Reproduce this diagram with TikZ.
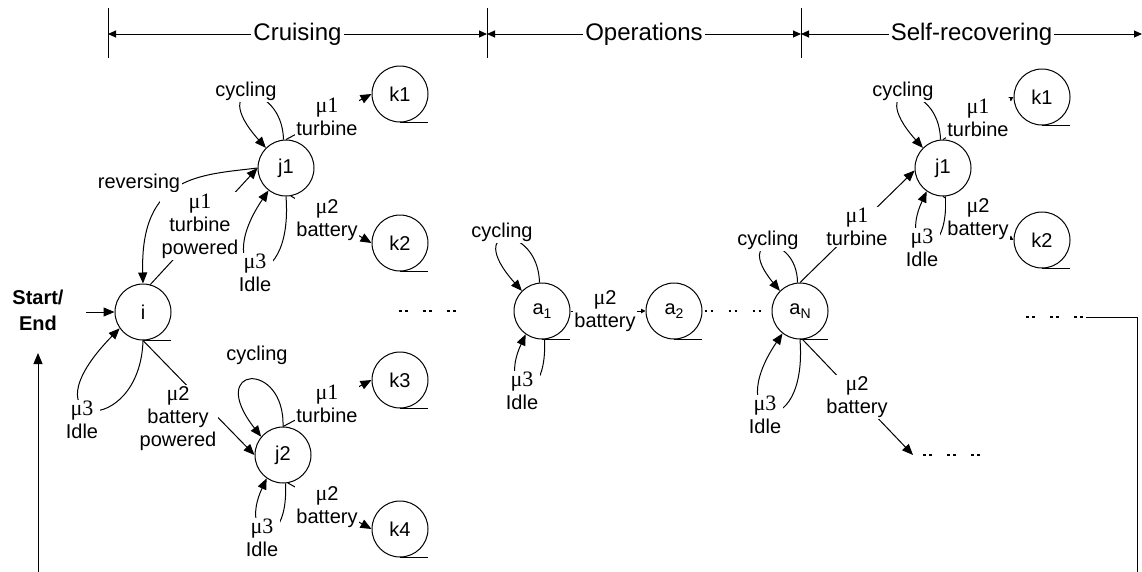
\documentclass[tikz,border=0pt]{standalone}
\usepackage{fontspec}
\setmainfont{Liberation Sans}
\newfontfamily\muserif{Liberation Serif}
\usetikzlibrary{arrows.meta,calc}
\newcommand{\mymu}[1]{{\muserif\fontsize{22}{23}\selectfont μ#1}}
\newcommand{\mymus}[1]{{\muserif\fontsize{22}{23}\selectfont μ}#1}
\newcommand{\subtxt}[1]{\raisebox{-4pt}{\fontsize{14}{14}\selectfont #1}}
\begin{document}
\begin{tikzpicture}[x=1pt,y=-1pt,line width=1pt,
  st/.style={circle,draw,minimum size=56pt,inner sep=0pt,font=\fontsize{20}{24}\selectfont},
  lbl/.style={fill=white,inner sep=1.5pt,align=center,font=\fontsize{20}{23}\selectfont},
  hdr/.style={fill=white,inner sep=2pt,font=\fontsize{24}{28}\selectfont},
  arr/.style={-{Triangle[length=11pt,width=9pt]}},
  sarr/.style={-{Triangle[length=4.5pt,width=4.5pt]}},
  harr/.style={{Triangle[length=8pt,width=7pt]}-{Triangle[length=8pt,width=7pt]}},
  dotline/.style={line width=2.6pt,dash pattern=on 2.6pt off 3.4pt on 2.6pt off 15.4pt}]
\useasboundingbox (0,0) rectangle (1142,571);

% header
\coordinate (h0) at (108,34);
\coordinate (h1) at (487,34);
\coordinate (h2) at (801,34);
\coordinate (h3) at (1142,34);
\foreach \xx in {108,487,801} \draw (\xx,8) -- (\xx,58);
\draw[harr] (h0) -- node[hdr] (hc) {Cruising} (h1);
\draw[harr] (h1) -- node[hdr] (ho) {Operations} (h2);
\draw[harr] (h2) -- node[hdr] (hs) {Self-recovering} (h3);

% states
\node[st] (i) at (143,312) {i};
\node[st] (j1) at (286,168) {j1};
\node[st] (k1) at (400,94) {k1};
\node[st] (k2) at (400,243) {k2};
\node[st] (j2) at (283,455) {j2};
\node[st] (k3) at (400,380) {k3};
\node[st] (k4) at (400,529) {k4};
\node[st] (a1) at (542,311) {a\subtxt{1}};
\node[st] (a2) at (674,311) {a\subtxt{2}};
\node[st] (aN) at (800,311) {a\subtxt{N}};
\node[st] (rj1) at (943,168) {j1};
\node[st] (rk1) at (1042,97) {k1};
\node[st] (rk2) at (1042,240) {k2};
\foreach \n in {i,k1,k2,k3,k4,a1,a2,aN,rk1,rk2} \draw (\n.south) -- ++(28,0);

% start / end
\node[font=\bfseries\fontsize{20}{26}\selectfont,align=center,inner sep=0pt] (se) at (38,310) {Start/\\End};
\coordinate (sa) at (86,312);
\coordinate (re) at (38,353);
\draw[arr] (sa) -- (i.west);

% left part
\draw[arr] (i.75) -- (j1.west);
\draw[arr] (j1.west) .. controls (200,175) and (140,175) .. (i.north);
\draw[arr] (j1.95) .. controls ($(j1)+(-4,-88)$) and ($(j1)+(-81,-88)$) .. (j1.135);
\draw[arr] (j1.270) .. controls ($(j1)+(8,135)$) and ($(j1)+(-80,115)$) .. (j1.232);
\draw[arr] (j1.north) -- (k1.west);
\draw[arr] (j1.280) -- (k2.west);
\draw[arr] (i.south) .. controls (140,440) and (20,430) .. (i.215);
\draw[arr] (i.south) -- (j2.west);
\draw[arr] (j2.north) .. controls (285,360) and (205,365) .. (j2.140);
\draw[arr] (j2.north) -- (k3.west);
\draw[arr] (j2.280) -- (k4.west);
\draw[arr] (j2.275) .. controls ($(j2)+(6,100)$) and ($(j2)+(-45,85)$) .. (j2.235);
\draw[dotline] (399,311) -- (458,311);

% operations
\draw[arr] (a1.95) .. controls ($(a1)+(-4,-88)$) and ($(a1)+(-81,-88)$) .. (a1.135);
\draw[arr] (a1.275) .. controls ($(a1)+(6,100)$) and ($(a1)+(-45,85)$) .. (a1.235);
\draw[sarr] (a1.east) -- (a2.west);
\draw[dotline] ([xshift=2pt]a2.east) -- (aN.west);
\draw[arr] (aN.95) .. controls ($(aN)+(-3,-78)$) and ($(aN)+(-68,-78)$) .. (aN.135);
\draw[arr] (aN.270) .. controls ($(aN)+(8,135)$) and ($(aN)+(-80,115)$) .. (aN.232);
\draw[arr] (aN.north) -- (rj1.185);
\coordinate (d3s) at (913,455);
\coordinate (d3a) at (923,455);
\coordinate (d3b) at (983,455);
\draw[arr] (aN.-85) -- (d3s);
\draw[dotline] (d3a) -- (d3b);

% self-recovering
\draw[arr] (rj1.95) .. controls ($(rj1)+(-4,-88)$) and ($(rj1)+(-81,-88)$) .. (rj1.135);
\draw[arr] (rj1.275) .. controls ($(rj1)+(6,100)$) and ($(rj1)+(-45,85)$) .. (rj1.235);
\draw[sarr] (rj1.north) -- (rk1.west);
\draw[sarr] (rj1.south) -- (rk2.west);

% return path
\coordinate (d4s) at (1026,317);
\coordinate (d4e) at (1086,317);
\draw[dotline] (d4s) -- (d4e);
\begin{scope}
\clip (0,0) rectangle (1142,571);
\draw[arr] (d4e) -- (1137,317) -- (1137,600) -- (38,600) -- (re);
\end{scope}

% labels
\node[lbl] (lrev) at (139,183) {reversing};
\node[lbl] (lij1) at (200,226) {\mymu{1}\\turbine\\powered};
\node[lbl] (lj1c) at ($(j1)+(-40,-77)$) {cycling};
\node[lbl] (lj1i) at ($(j1)+(-31,105)$) {\mymu{3}\\Idle};
\node[lbl] (lj1k1) at (327,117) {\mymu{1}\\turbine};
\node[lbl] (lj1k2) at (327,220) {\mymus{2}\\battery};
\node[lbl] (lii) at (82,420) {\mymu{3}\\Idle};
\node[lbl] (lij2) at (178,419) {\mymus{2}\\battery\\powered};
\node[lbl] (lj2c) at (257,355) {cycling};
\node[lbl] (lj2k3) at (327,404) {\mymu{1}\\turbine};
\node[lbl] (lj2k4) at (327,507) {\mymus{2}\\battery};
\node[lbl] (lj2i) at ($(j2)+(-21,83)$) {\mymu{3}\\Idle};
\node[lbl] (la1c) at ($(a1)+(-40,-79)$) {cycling};
\node[lbl] (la1i) at ($(a1)+(-20,80)$) {\mymu{3}\\Idle};
\node[lbl] (la12) at (605,311) {\mymus{2}\\battery};
\node[lbl] (laNc) at ($(aN)+(-32,-71)$) {cycling};
\node[lbl] (laNi) at ($(aN)+(-35,104)$) {\mymu{3}\\Idle};
\node[lbl] (laNj) at (857,227) {\mymu{1}\\turbine};
\node[lbl] (laNd) at (857,397) {\mymus{2}\\battery};
\node[lbl] (lrc) at ($(rj1)+(-40,-77)$) {cycling};
\node[lbl] (lri) at ($(rj1)+(-21,80)$) {\mymu{3}\\Idle};
\node[lbl] (lrk1) at (978,118) {\mymu{1}\\turbine};
\node[lbl] (lrk2) at (978,219) {\mymus{2}\\battery};
\end{tikzpicture}
\end{document}
